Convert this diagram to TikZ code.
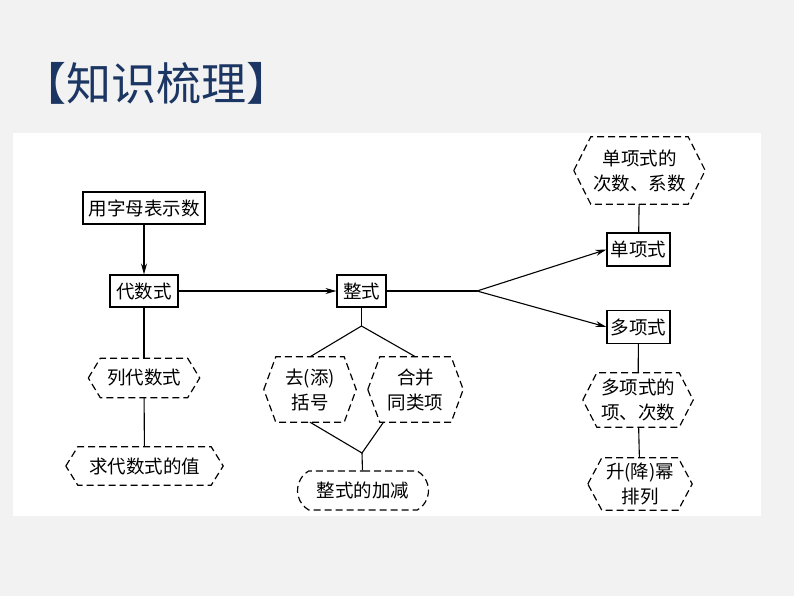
\documentclass[tikz,border=0pt]{standalone}
\usepackage{fontspec}
\newfontfamily\cjk{Noto Sans CJK SC}
\usetikzlibrary{arrows.meta,shapes.misc,calc}
\definecolor{navy}{RGB}{28,54,99}
\definecolor{bggray}{RGB}{242,242,242}
\tikzset{
 txt/.style={font=\cjk\fontsize{18.5}{25}\selectfont},
 box/.style={txt,draw,line width=1.1pt,minimum height=32pt,inner sep=0pt},
 hexa/.style={txt,inner sep=0pt,align=center},
 dashline/.style={line width=1.2pt,dash pattern=on 7pt off 4pt},
 conn/.style={line width=1.1pt},
 arr/.style={conn,-{Stealth[length=11pt,width=6pt]}},
}
\newcommand\hexframe[2]{%
 \draw[dashline] (#1.west) -- ($(#1.north west)+(#2,0)$) -- ($(#1.north east)+(-#2,0)$) -- (#1.east) -- ($(#1.south east)+(-#2,0)$) -- ($(#1.south west)+(#2,0)$) -- cycle;}
\begin{document}
\begin{tikzpicture}[x=1pt,y=-1pt]
\useasboundingbox (0,0) rectangle (794,596);
\fill[bggray] (0,0) rectangle (794,596);
\fill[white] (13,133) rectangle (761,516);
\node[font=\cjk\fontsize{45}{45}\selectfont,text=navy,inner sep=0pt] (title) at (156,83) {【知识梳理】};

\node[box,minimum width=122pt] (yong) at (144,208) {用字母表示数};
\node[box,minimum width=68pt] (dai) at (144,291) {代数式};
\node[hexa,minimum width=111pt,minimum height=39pt] (lie) at (144,378) {列代数式};
\node[hexa,minimum width=157pt,minimum height=38pt] (qiu) at (144.5,466) {求代数式的值};
\node[box,minimum width=49pt] (zheng) at (361.5,291) {整式};
\node[hexa,minimum width=92pt,minimum height=65pt] (qu) at (310,389.5) {去(添)\\括号};
\node[hexa,minimum width=95pt,minimum height=65pt] (he) at (415.5,389.5) {合并\\同类项};
\node[txt,draw,dashline,rounded rectangle,rounded rectangle arc length=120,inner sep=0pt,minimum width=131pt,minimum height=39pt] (jj) at (363,490.5) {整式的加减};
\node[box,minimum width=63pt,minimum height=33pt] (dan) at (638.5,249.5) {单项式};
\node[box,minimum width=63pt,minimum height=33pt] (duo) at (638.5,327) {多项式};
\node[hexa,minimum width=131pt,minimum height=67pt] (danx) at (639.5,170.5) {单项式的\\次数、系数};
\node[hexa,minimum width=110pt,minimum height=54pt] (duox) at (638,400) {多项式的\\项、次数};
\node[hexa,minimum width=104pt,minimum height=52pt] (sheng) at (640,484) {升(降)幂\\排列};

\hexframe{lie}{12}
\hexframe{qiu}{12}
\hexframe{qu}{12}
\hexframe{he}{12}
\hexframe{danx}{17}
\hexframe{duox}{14}
\hexframe{sheng}{14}

\draw[arr] (yong) -- (dai);
\draw[conn] (dai) -- (lie);
\draw[conn] (lie) -- (qiu);
\draw[arr] (dai) -- (zheng);
\coordinate (j1) at (361.5,326);
\draw[conn] (zheng) -- (j1);
\draw[conn] (j1) -- (qu.north);
\draw[conn] (j1) -- (he.north);
\coordinate (j2) at (362,453);
\coordinate (hb) at ($(he.south)+(-32,0)$);
\draw[conn] (qu.south) -- (j2) -- (hb);
\draw[conn] (j2) -- (jj);
\coordinate (j3) at (477,291);
\draw[conn] (zheng) -- (j3);
\draw[arr] (j3) -- (dan.west);
\draw[arr] (j3) -- (duo.west);
\draw[conn] (danx) -- (dan);
\draw[conn] (duo) -- (duox);
\draw[conn] (duox) -- (sheng);
\end{tikzpicture}
\end{document}
